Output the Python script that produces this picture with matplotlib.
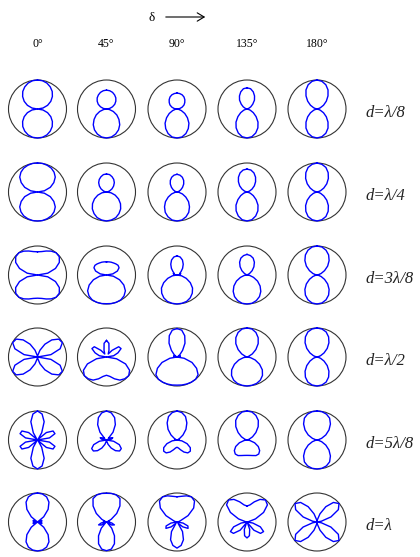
import numpy as np
import matplotlib
matplotlib.use("Agg")
import matplotlib.pyplot as plt

# polar angle from the top of each circle, degrees (right half, mirrored for the left)
ANGLES = list(range(0, 181, 10))

DELTA_LABELS = ["0°", "45°", "90°", "135°", "180°"]
D_LABELS = ["d=λ/8", "d=λ/4", "d=3λ/8", "d=λ/2", "d=5λ/8", "d=λ"]

# relative field strength, one list per delta column
PAT_L8 = [
    [1, .99, .95, .88, .79, .67, .53, .37, .19, 0, .19, .37, .53, .67, .79, .88, .95, .99, 1],
    [.65, .64, .61, .56, .50, .42, .33, .22, .11, 0, .10, .25, .41, .56, .71, .83, .92, .98, 1],
    [.55, .54, .52, .48, .42, .35, .28, .19, .10, 0, .05, .16, .31, .47, .64, .78, .90, .98, 1],
    [.73, .71, .63, .52, .40, .26, .15, .06, .01, 0, .03, .12, .25, .41, .59, .75, .88, .97, 1],
    [1, .97, .89, .76, .59, .42, .26, .12, .03, 0, .03, .12, .26, .42, .59, .76, .89, .97, 1],
]
PAT_L4 = [
    [1, 1, .98, .95, .89, .80, .65, .47, .24, 0, .24, .47, .65, .80, .89, .95, .98, 1, 1],
    [.62, .61, .56, .50, .42, .32, .22, .12, .05, 0, .16, .32, .48, .63, .76, .86, .94, .98, 1],
    [.61, .59, .54, .46, .36, .25, .15, .07, .02, 0, .07, .20, .35, .52, .67, .81, .91, .98, 1],
    [.79, .77, .70, .59, .46, .33, .20, .09, .02, 0, .03, .12, .25, .41, .59, .75, .88, .97, 1],
    [1, .97, .90, .77, .61, .44, .27, .13, .03, 0, .03, .13, .27, .44, .61, .77, .90, .97, 1],
]
PAT_3L8 = [
    [.80, .82, .88, .95, 1, .98, .87, .66, .36, 0, .36, .66, .87, .98, 1, .95, .88, .82, .80],
    [.45, .46, .47, .48, .50, .52, .50, .40, .22, 0, .24, .48, .69, .85, .94, .99, 1, 1, .99],
    [.66, .63, .55, .43, .30, .18, .11, .14, .10, 0, .16, .34, .53, .70, .82, .91, .97, .99, 1],
    [.71, .68, .62, .51, .37, .23, .10, 0, .03, 0, .10, .24, .42, .59, .74, .86, .94, .99, 1],
    [1, .98, .91, .80, .65, .48, .30, .15, .04, 0, .04, .15, .30, .48, .65, .80, .91, .98, 1],
]
PAT_L2 = [
    [0, .06, .25, .51, .77, .96, .99, .83, .47, 0, .47, .83, .99, .96, .77, .51, .25, .06, 0],
    [.57, .48, .25, .12, .30, .55, .58, .42, .25, 0, .35, .70, .92, 1, .98, .92, .80, .68, .63],
    [.98, .94, .78, .55, .30, .13, .04, .12, .12, 0, .25, .55, .78, .95, 1, 1, .99, .98, .97],
    [1, .98, .90, .77, .60, .40, .21, .05, .02, 0, .12, .30, .50, .69, .83, .92, .97, .99, 1],
    [1, .98, .92, .80, .64, .46, .28, .13, .03, 0, .03, .13, .28, .46, .64, .80, .92, .98, 1],
]
PAT_5L8 = [
    [1, .91, .67, .29, .03, .40, .62, .64, .42, 0, .42, .64, .62, .40, .03, .29, .67, .91, 1],
    [1, .95, .82, .61, .35, .08, .14, .23, .18, 0, .25, .47, .59, .59, .48, .32, .16, .04, 0],
    [1, .96, .86, .68, .48, .27, .10, .04, .08, 0, .17, .37, .53, .60, .58, .48, .36, .28, .25],
    [1, .98, .90, .78, .60, .40, .22, .08, .01, 0, .10, .28, .45, .57, .63, .62, .57, .54, .53],
    [1, .99, .95, .87, .72, .54, .35, .17, .04, 0, .04, .17, .35, .54, .72, .87, .95, .99, 1],
]
PAT_L1 = [
    [1, .98, .92, .79, .57, .28, 0, .16, .15, 0, .15, .16, 0, .28, .57, .79, .92, .98, 1],
    [.99, 1, .99, .93, .72, .46, .19, .04, .11, 0, .18, .29, .21, .04, .28, .55, .80, .95, .99],
    [.87, .90, .96, 1, .94, .75, .44, .12, .05, 0, .21, .40, .44, .26, .05, .38, .65, .82, .90],
    [.55, .60, .74, .90, .99, .92, .66, .31, .04, 0, .20, .49, .66, .61, .37, .03, .27, .48, .55],
    [0, .08, .30, .61, .88, .99, .85, .51, .15, 0, .15, .51, .85, .99, .88, .61, .30, .08, 0],
]
PATTERNS = [PAT_L8, PAT_L4, PAT_3L8, PAT_L2, PAT_5L8, PAT_L1]

W, H = 420, 557
COL_X = [37.5, 106.5, 177, 247, 317]
ROW_Y = [109, 192, 275, 357, 440, 522]
RAD = 29      # circle radius in pixels
HALF = 33     # half size of each small axes in pixels

fig = plt.figure(figsize=(W / 100, H / 100), dpi=100)

# background axes in pixel units for the text and the arrow
bg = fig.add_axes([0, 0, 1, 1])
bg.set_xlim(0, W)
bg.set_ylim(H, 0)
bg.axis("off")

serif = "Liberation Serif"
bg.text(152, 18, "δ", family=serif, fontsize=9.5, ha="center", va="center")
bg.annotate("", xy=(208, 17), xytext=(163, 17),
            arrowprops=dict(arrowstyle="->,head_length=0.5,head_width=0.3", lw=0.8, color="black"))
for x, lab in zip(COL_X, DELTA_LABELS):
    bg.text(x, 44, lab, family=serif, fontsize=8.5, ha="center", va="center")
for y, lab in zip(ROW_Y, D_LABELS):
    bg.text(366, y + 8, lab, family=serif, style="italic", fontsize=12,
            ha="left", va="baseline", color="#222222")

th = np.radians(ANGLES)
th_full = np.concatenate([th, 2 * np.pi - th[::-1][1:]])
lim = HALF / RAD

for i, row in enumerate(PATTERNS):
    for j, r in enumerate(row):
        cx, cy = COL_X[j], ROW_Y[i]
        ax = fig.add_axes([(cx - HALF) / W, 1 - (cy + HALF) / H, 2 * HALF / W, 2 * HALF / H])
        ax.set_xlim(-lim, lim)
        ax.set_ylim(-lim, lim)
        ax.axis("off")
        ax.add_patch(plt.Circle((0, 0), 1, fill=False, color="#333333", lw=0.8))
        r = np.array(r)
        r_full = np.concatenate([r, r[::-1][1:]])
        ax.plot(r_full * np.sin(th_full), r_full * np.cos(th_full), color="#0000ff", lw=1.0)

fig.savefig("out.png", dpi=100)
